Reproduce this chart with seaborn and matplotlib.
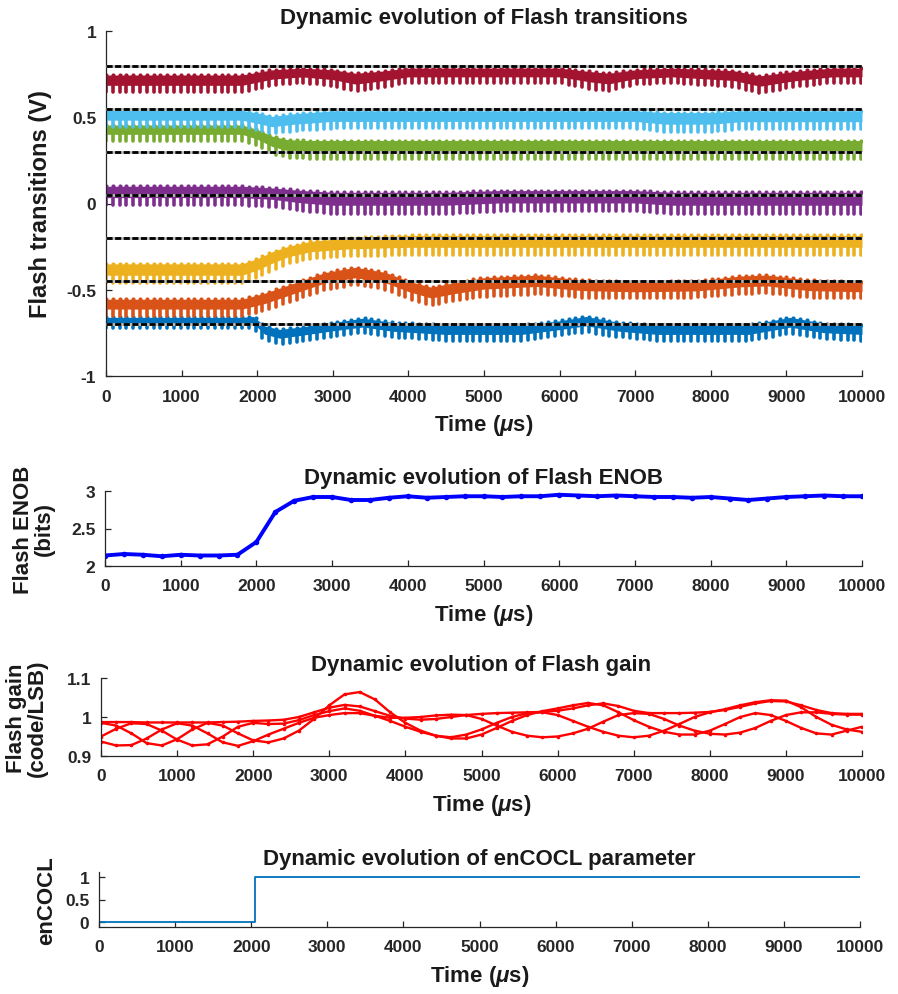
import numpy as np
import pandas as pd
import matplotlib
matplotlib.use("Agg")
import matplotlib.pyplot as plt
from matplotlib.ticker import FuncFormatter
import seaborn as sns

# ---------------------------------------------------------------------------
# Flash comparator transitions (V): upper / lower edge of each ripple band
# ---------------------------------------------------------------------------
blue_t = [0, 1800, 1950, 2100, 2300, 2600, 3000, 3400, 3800, 4500, 5500, 6000, 6350, 6800, 7300, 8500, 9050, 9500, 10000]
blue_hi = [-0.660, -0.660, -0.655, -0.710, -0.730, -0.715, -0.690, -0.665, -0.690, -0.705, -0.705, -0.680, -0.655, -0.690, -0.705, -0.705, -0.660, -0.695, -0.705]
blue_lo = [-0.720, -0.720, -0.725, -0.790, -0.815, -0.795, -0.770, -0.750, -0.775, -0.795, -0.795, -0.765, -0.745, -0.775, -0.795, -0.795, -0.755, -0.785, -0.795]

orange_t = [0, 1800, 2100, 2500, 2900, 3300, 3700, 4000, 4300, 4600, 5000, 5700, 6300, 7000, 7800, 8400, 8750, 9300, 10000]
orange_hi = [-0.555, -0.555, -0.520, -0.460, -0.400, -0.370, -0.400, -0.450, -0.485, -0.460, -0.430, -0.415, -0.445, -0.455, -0.450, -0.420, -0.415, -0.445, -0.455]
orange_lo = [-0.650, -0.650, -0.620, -0.560, -0.500, -0.470, -0.500, -0.550, -0.590, -0.565, -0.540, -0.525, -0.545, -0.550, -0.545, -0.525, -0.520, -0.545, -0.550]

yellow_t = [0, 1800, 2000, 2200, 2400, 2700, 3200, 4000, 10000]
yellow_hi = [-0.350, -0.350, -0.320, -0.280, -0.250, -0.220, -0.200, -0.185, -0.185]
yellow_lo = [-0.460, -0.460, -0.430, -0.390, -0.350, -0.320, -0.305, -0.300, -0.300]

purple_t = [0, 1800, 2200, 2600, 3000, 4500, 5200, 7000, 7500, 10000]
purple_hi = [0.100, 0.100, 0.090, 0.075, 0.065, 0.065, 0.075, 0.075, 0.065, 0.065]
purple_lo = [-0.010, -0.010, -0.020, -0.045, -0.060, -0.060, -0.045, -0.045, -0.060, -0.060]

green_t = [0, 1800, 2000, 2200, 2400, 2700, 10000]
green_hi = [0.455, 0.455, 0.430, 0.390, 0.370, 0.365, 0.365]
green_lo = [0.365, 0.365, 0.335, 0.290, 0.265, 0.260, 0.260]

cyan_t = [0, 1800, 2000, 2200, 2500, 3000, 7000, 7400, 8000, 8400, 10000]
cyan_hi = [0.540, 0.540, 0.525, 0.505, 0.520, 0.537, 0.537, 0.527, 0.527, 0.537, 0.537]
cyan_lo = [0.445, 0.445, 0.425, 0.405, 0.420, 0.435, 0.435, 0.415, 0.415, 0.432, 0.432]

red_t = [0, 1800, 2200, 2600, 3000, 3300, 3600, 4000, 6000, 6400, 6650, 7000, 7500, 8300, 8650, 9100, 9600, 10000]
red_hi = [0.745, 0.745, 0.775, 0.785, 0.775, 0.755, 0.765, 0.785, 0.785, 0.765, 0.755, 0.775, 0.785, 0.770, 0.740, 0.765, 0.785, 0.785]
red_lo = [0.645, 0.645, 0.685, 0.700, 0.680, 0.650, 0.670, 0.700, 0.700, 0.665, 0.652, 0.690, 0.700, 0.675, 0.640, 0.675, 0.700, 0.700]

# ideal transition levels (V)
ideal_levels = [0.80, 0.55, 0.30, 0.05, -0.20, -0.45, -0.70]

# ---------------------------------------------------------------------------
# Flash ENOB (bits)
# ---------------------------------------------------------------------------
enob_t = list(range(0, 10001, 250))
enob_bits = [2.14, 2.16, 2.15, 2.13, 2.15, 2.14, 2.14, 2.15, 2.32, 2.72, 2.87, 2.92, 2.92, 2.88,
             2.88, 2.91, 2.93, 2.91, 2.92, 2.93, 2.93, 2.92, 2.93, 2.93, 2.95, 2.94, 2.93, 2.94,
             2.93, 2.92, 2.92, 2.91, 2.92, 2.90, 2.88, 2.90, 2.92, 2.93, 2.94, 2.93, 2.93]

# ---------------------------------------------------------------------------
# Flash gain (code/LSB), one curve per comparator pair
# ---------------------------------------------------------------------------
gain_t = list(range(0, 10001, 200))
gain_a = [0.987, 0.987, 0.987, 0.986, 0.986, 0.986, 0.986, 0.986, 0.987, 0.988, 0.990, 0.991, 0.993,
          1.000, 1.012, 1.024, 1.031, 1.027, 1.015, 1.003, 0.996, 0.993, 0.995, 1.000, 1.005, 1.008,
          1.010, 1.011, 1.012, 1.013, 1.016, 1.022, 1.030, 1.035, 1.028, 1.016, 1.010, 1.010, 1.010,
          1.011, 1.013, 1.018, 1.026, 1.035, 1.041, 1.040, 1.030, 1.018, 1.010, 1.008, 1.008]
gain_b = [0.985, 0.978, 0.958, 0.933, 0.927, 0.943, 0.968, 0.985, 0.978, 0.958, 0.940, 0.935, 0.945,
          0.965, 0.995, 1.030, 1.058, 1.064, 1.045, 1.012, 0.985, 0.965, 0.952, 0.948, 0.955, 0.968,
          0.985, 1.000, 1.010, 1.012, 1.005, 0.990, 0.975, 0.962, 0.952, 0.948, 0.952, 0.965, 0.982,
          1.000, 1.012, 1.020, 1.030, 1.038, 1.043, 1.042, 1.025, 1.000, 0.980, 0.968, 0.962]
gain_c = [0.950, 0.970, 0.984, 0.982, 0.965, 0.942, 0.927, 0.930, 0.950, 0.975, 0.985, 0.982, 0.983,
          0.992, 1.005, 1.015, 1.022, 1.016, 1.003, 0.990, 0.975, 0.962, 0.952, 0.945, 0.945, 0.955,
          0.972, 0.990, 1.005, 1.015, 1.022, 1.030, 1.036, 1.030, 1.012, 0.992, 0.975, 0.962, 0.955,
          0.955, 0.965, 0.982, 1.000, 1.010, 1.005, 0.990, 0.972, 0.958, 0.955, 0.965, 0.975]
gain_d = [0.937, 0.927, 0.928, 0.945, 0.968, 0.984, 0.978, 0.958, 0.935, 0.926, 0.938, 0.955, 0.970,
          0.985, 0.998, 1.005, 1.010, 1.010, 1.003, 0.998, 0.998, 1.000, 1.004, 1.006, 1.005, 0.995,
          0.978, 0.962, 0.952, 0.948, 0.950, 0.958, 0.970, 0.988, 1.005, 1.010, 1.008, 0.995, 0.978,
          0.965, 0.957, 0.955, 0.960, 0.972, 0.990, 1.005, 1.012, 1.012, 1.008, 1.006, 1.006]

# ---------------------------------------------------------------------------
# enCOCL control bit
# ---------------------------------------------------------------------------
encocl_t = [0, 2050, 10000]
encocl_v = [0, 1, 1]

time_ticks = list(range(0, 10001, 1000))

# ---------------------------------------------------------------------------
# Style
# ---------------------------------------------------------------------------
sns.set_theme(style="ticks")
plt.rcParams["font.family"] = ["Liberation Sans", "DejaVu Sans"]
plt.rcParams.update({
    "font.weight": "bold",
    "axes.labelweight": "bold",
    "axes.titleweight": "bold",
    "axes.edgecolor": "#262626",
    "axes.linewidth": 0.9,
    "axes.unicode_minus": False,
    "xtick.direction": "in",
    "ytick.direction": "in",
    "xtick.color": "#262626",
    "ytick.color": "#262626",
    "xtick.major.size": 4,
    "ytick.major.size": 4,
    "xtick.major.width": 0.9,
    "ytick.major.width": 0.9,
    "xtick.major.pad": 9,
    "ytick.major.pad": 7,
    "text.color": "#1a1a1a",
    "axes.labelcolor": "#1a1a1a",
    "mathtext.fontset": "custom",
    "mathtext.rm": "Liberation Sans",
    "mathtext.it": "Liberation Sans:italic",
    "mathtext.bf": "Liberation Sans:bold",
})

TICK_FS = 12.5
LABEL_FS = 16
TITLE_FS = 16
plain = FuncFormatter(lambda v, p: f"{v:g}")

W, H = 898, 995
fig = plt.figure(figsize=(W / 100, H / 100), dpi=100)


def add_axes(left, top, right, bottom):
    return fig.add_axes([left / W, 1 - bottom / H, (right - left) / W, (bottom - top) / H])


def finish(ax, yticks, title, ylabel, ylabel_x, ylabel_fs=LABEL_FS):
    ax.set_xlim(0, 10000)
    ax.set_xticks(time_ticks)
    ax.set_yticks(yticks)
    ax.xaxis.set_major_formatter(plain)
    ax.yaxis.set_major_formatter(plain)
    ax.tick_params(labelsize=TICK_FS)
    for lab in ax.get_xticklabels() + ax.get_yticklabels():
        lab.set_fontweight("bold")
    ax.set_title(title, fontsize=TITLE_FS, pad=6)
    ax.set_xlabel(r"Time ($\mu$s)", fontsize=LABEL_FS, labelpad=6)
    ax.set_ylabel(ylabel, fontsize=ylabel_fs, linespacing=1.0)
    ax.yaxis.set_label_coords(ylabel_x, 0.5)
    sns.despine(ax=ax)


def draw_band(ax, t, hi, lo, color):
    tt = np.linspace(0, 10000, 2001)
    h = np.interp(tt, t, hi)
    l = np.interp(tt, t, lo)
    ax.fill_between(tt, h - 0.6 * (h - l), h, color=color, lw=0)
    teeth = np.arange(0, 10001, 90)
    th = np.interp(teeth, t, hi)
    tl = np.interp(teeth, t, lo)
    ax.vlines(teeth, tl, th - 0.3 * (th - tl), colors=color, lw=2.6, capstyle="round")
    ax.plot(teeth, th, "o", color=color, ms=3.0, mew=0)


# --- transitions -----------------------------------------------------------
ax1 = add_axes(106, 32, 862, 377)
bands = [
    (blue_t, blue_hi, blue_lo, "#0072BD"),
    (orange_t, orange_hi, orange_lo, "#D95319"),
    (yellow_t, yellow_hi, yellow_lo, "#EDB120"),
    (purple_t, purple_hi, purple_lo, "#7E2F8E"),
    (green_t, green_hi, green_lo, "#77AC30"),
    (cyan_t, cyan_hi, cyan_lo, "#4DBEEE"),
    (red_t, red_hi, red_lo, "#A2142F"),
]
for t, hi, lo, col in bands:
    draw_band(ax1, t, hi, lo, col)
for lvl in ideal_levels:
    ax1.axhline(lvl, color="#bdbdbd", lw=2.0, zorder=3)
    ax1.axhline(lvl, color="black", lw=2.0, dashes=(2.2, 0.9), zorder=4)
ax1.set_ylim(-1, 1)
finish(ax1, [-1, -0.5, 0, 0.5, 1], "Dynamic evolution of Flash transitions",
       "Flash transitions (V)", -0.071, ylabel_fs=17)

# --- ENOB ------------------------------------------------------------------
ax2 = add_axes(105, 492, 862, 567)
sns.lineplot(x=enob_t, y=enob_bits, ax=ax2, color="blue", lw=2.8,
             marker="o", markersize=4, markeredgewidth=0)
ax2.set_ylim(2, 3)
finish(ax2, [2, 2.5, 3], "Dynamic evolution of Flash ENOB", "Flash ENOB\n(bits)", -0.066)

# --- gain ------------------------------------------------------------------
gain_df = pd.DataFrame({
    "time": gain_t * 4,
    "gain": gain_a + gain_b + gain_c + gain_d,
    "curve": ["a"] * len(gain_t) + ["b"] * len(gain_t) + ["c"] * len(gain_t) + ["d"] * len(gain_t),
})
ax3 = add_axes(101, 679, 862, 757)
sns.lineplot(data=gain_df, x="time", y="gain", hue="curve", palette=["red"] * 4, ax=ax3,
             lw=1.7, marker="o", markersize=2.6, markeredgewidth=0, legend=False)
ax3.set_ylim(0.9, 1.1)
finish(ax3, [0.9, 1, 1.1], "Dynamic evolution of Flash gain", "Flash gain\n(code/LSB)", -0.070)

# --- enCOCL ----------------------------------------------------------------
ax4 = add_axes(99, 873, 860, 928)
sns.lineplot(x=encocl_t, y=encocl_v, ax=ax4, color="#0072BD", lw=1.3, drawstyle="steps-post")
ax4.set_ylim(-0.1, 1.1)
finish(ax4, [0, 0.5, 1], "Dynamic evolution of enCOCL parameter", "enCOCL", -0.055)

fig.savefig("out.png", dpi=100)
